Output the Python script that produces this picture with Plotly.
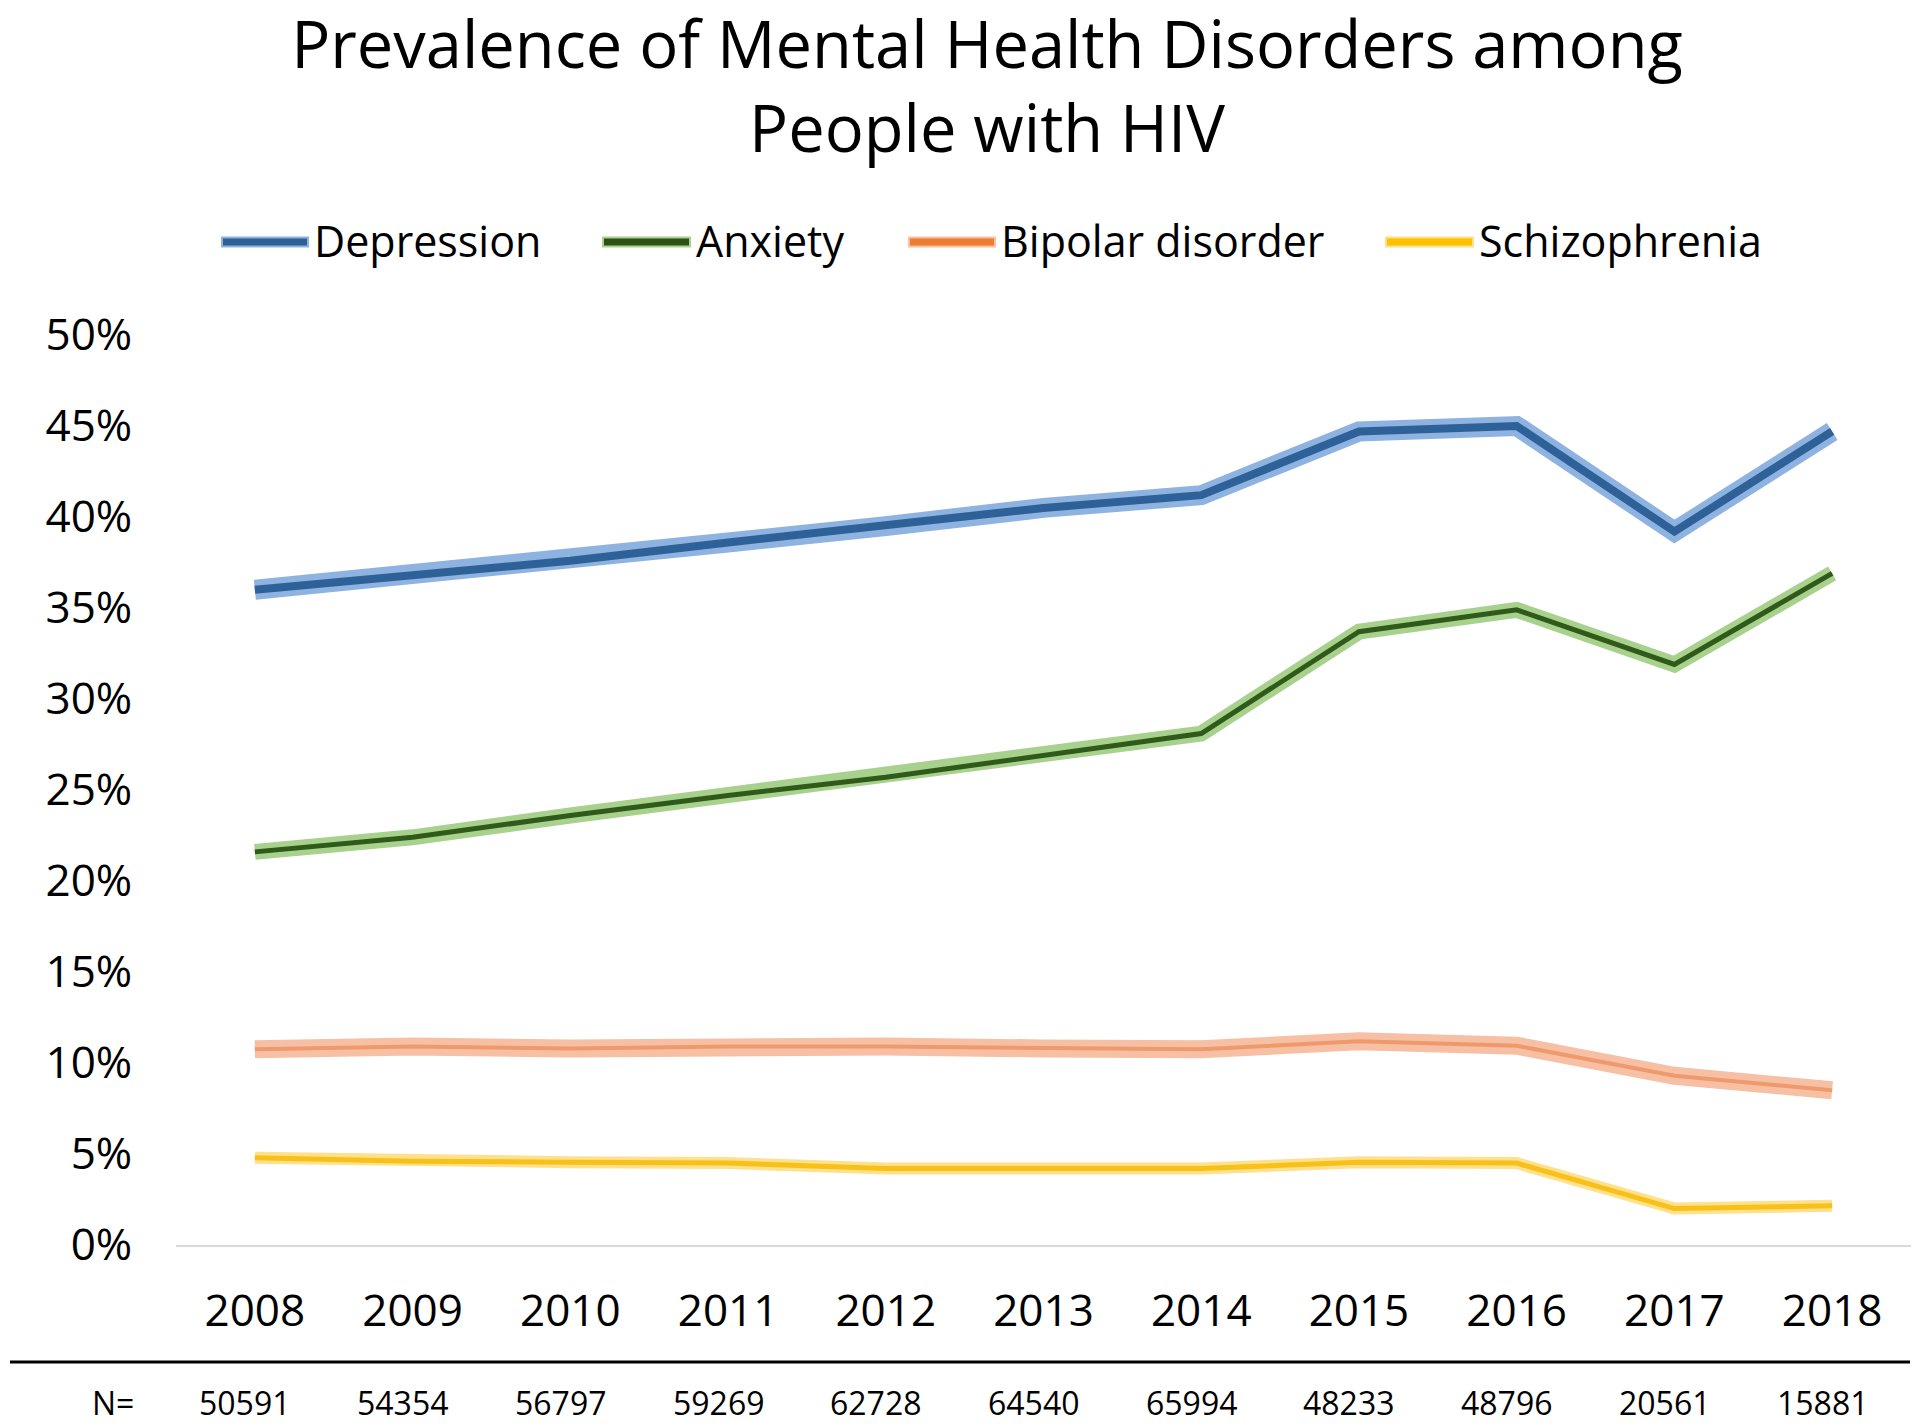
import plotly.graph_objects as go

years = [2008, 2009, 2010, 2011, 2012, 2013, 2014, 2015, 2016, 2017, 2018]
depression = [36.0, 36.8, 37.6, 38.6, 39.5, 40.5, 41.2, 44.7, 45.0, 39.2, 44.7]
anxiety = [21.6, 22.4, 23.6, 24.7, 25.7, 26.9, 28.1, 33.7, 34.9, 31.9, 36.9]
bipolar = [10.75, 10.9, 10.8, 10.9, 10.9, 10.8, 10.75, 11.2, 10.95, 9.3, 8.5]
schizophrenia = [4.8, 4.6, 4.55, 4.5, 4.2, 4.2, 4.2, 4.55, 4.5, 2.0, 2.15]
n_values = ["50591", "54354", "56797", "59269", "62728", "64540", "65994",
            "48233", "48796", "20561", "15881"]
y_ticks = [0, 5, 10, 15, 20, 25, 30, 35, 40, 45, 50]
y_tick_labels = [f"{v}%" for v in y_ticks]

# name, values, band colour, band width, line colour, line width, legend colour
series = [
    ("Depression", depression, "#8fb3e0", 20, "#2f6199", 8, "#2e6096"),
    ("Anxiety", anxiety, "#a9d18e", 16, "#2f5a1a", 5, "#2d5016"),
    ("Bipolar disorder", bipolar, "#f7c0a4", 18, "#ef9a6c", 4, "#ed7d31"),
    ("Schizophrenia", schizophrenia, "#ffe08c", 12, "#f7c11a", 5, "#ffc000"),
]

FONT = "Open Sans"
W, H = 1920, 1426
L, R, T, B = 176, 9, 335, 181
PW, PH = W - L - R, H - T - B


def px_x(px):
    return (px - L) / PW


def px_y(py):
    return (H - B - py) / PH


fig = go.Figure()
for name, vals, band_c, band_w, c, w, _ in series:
    fig.add_trace(go.Scatter(x=years, y=vals, mode="lines", showlegend=False,
                             line=dict(color=band_c, width=band_w), hoverinfo="skip"))
    fig.add_trace(go.Scatter(x=years, y=vals, mode="lines", name=name, showlegend=False,
                             line=dict(color=c, width=w)))

annotations = []
shapes = []

# legend (manual, to reproduce the reference spacing)
legend_sym = [(221, 309), (602, 691), (908, 996), (1385, 1474)]
legend_y = 242
for (name, _, band_c, _, _, _, lc), (x0, x1) in zip(series, legend_sym):
    shapes.append(dict(type="line", xref="paper", yref="paper",
                       x0=px_x(x0), x1=px_x(x1), y0=px_y(legend_y), y1=px_y(legend_y),
                       line=dict(color=band_c, width=11)))
    shapes.append(dict(type="line", xref="paper", yref="paper",
                       x0=px_x(x0 + 2), x1=px_x(x1 - 2), y0=px_y(legend_y), y1=px_y(legend_y),
                       line=dict(color=lc, width=7)))
    annotations.append(dict(x=px_x(x1 + 3), y=px_y(legend_y - 1), xref="paper", yref="paper",
                            text=name, showarrow=False, xanchor="left", yanchor="middle",
                            font=dict(family=FONT, size=43, color="black")))

# N row
n_y = px_y(1402)
for yr, n in zip(years, n_values):
    annotations.append(dict(x=yr, y=n_y, xref="x", yref="paper", text=n,
                            showarrow=False, xshift=-10,
                            font=dict(family=FONT, size=32, color="black"),
                            xanchor="center", yanchor="middle"))
annotations.append(dict(x=px_x(113), y=n_y, xref="paper", yref="paper", text="N=",
                        showarrow=False, font=dict(family=FONT, size=32, color="black"),
                        xanchor="center", yanchor="middle"))

shapes.append(dict(type="line", xref="paper", yref="paper",
                   x0=px_x(10), x1=px_x(1910), y0=px_y(1362), y1=px_y(1362),
                   line=dict(color="black", width=3)))

fig.update_layout(
    width=W, height=H,
    paper_bgcolor="white", plot_bgcolor="white",
    margin=dict(l=L, r=R, t=T, b=B, autoexpand=False),
    showlegend=False,
    title=dict(text="Prevalence of Mental Health Disorders among<br>People with HIV",
               x=px_x(987), xanchor="center", y=1 - 67.5 / H, yanchor="middle",
               yref="container", xref="paper", automargin=False,
               font=dict(family=FONT, size=65, color="black")),
    xaxis=dict(range=[2007.5, 2018.5], tickmode="array", tickvals=years,
               ticktext=[str(y) for y in years], showgrid=False, zeroline=False,
               showline=True, linecolor="#d9d9d9", linewidth=2, automargin=False,
               ticks="outside", ticklen=26, tickcolor="rgba(0,0,0,0)",
               tickfont=dict(family=FONT, size=44, color="black")),
    yaxis=dict(range=[0, 50], tickmode="array", tickvals=y_ticks, ticktext=y_tick_labels,
               showgrid=False, zeroline=False, showline=False, automargin=False,
               ticks="outside", ticklen=34, tickcolor="rgba(0,0,0,0)",
               tickfont=dict(family=FONT, size=44, color="black")),
    annotations=annotations,
    shapes=shapes,
)

fig.write_html("out.html", config={"displayModeBar": False},
               post_script="document.body.style.margin='0';")
